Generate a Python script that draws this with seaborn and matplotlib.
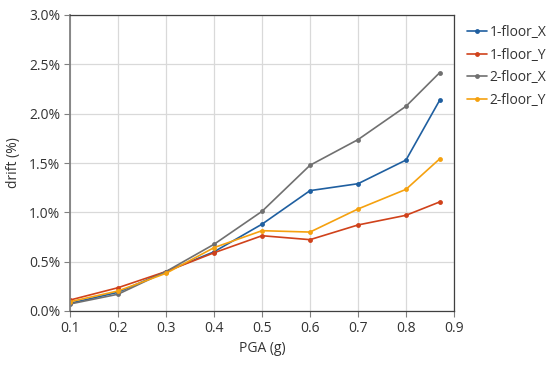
import matplotlib
matplotlib.use("Agg")
import matplotlib.pyplot as plt
import seaborn as sns
import pandas as pd
from matplotlib.ticker import FuncFormatter

pga = [0.1, 0.2, 0.3, 0.4, 0.5, 0.6, 0.7, 0.8, 0.87]
floor1_x = [0.078, 0.19, 0.40, 0.60, 0.88, 1.22, 1.29, 1.53, 2.135]
floor1_y = [0.111, 0.236, 0.40, 0.59, 0.763, 0.723, 0.872, 0.97, 1.105]
floor2_x = [0.071, 0.17, 0.40, 0.676, 1.01, 1.477, 1.737, 2.075, 2.415]
floor2_y = [0.094, 0.203, 0.382, 0.642, 0.814, 0.80, 1.034, 1.233, 1.541]
series_names = ["1-floor_X", "1-floor_Y", "2-floor_X", "2-floor_Y"]
colors = ["#1F5FA0", "#D0421B", "#707070", "#F5A10F"]

rows = []
for name, vals in zip(series_names, [floor1_x, floor1_y, floor2_x, floor2_y]):
    for x, v in zip(pga, vals):
        rows.append({"PGA": x, "drift": v, "series": name})
df = pd.DataFrame(rows)

sns.set_theme(style="whitegrid")
plt.rcParams["font.family"] = ["Open Sans", "DejaVu Sans"]

fig = plt.figure(figsize=(5.5, 3.65), dpi=100)
ax = fig.add_axes([70/550, 1-311/365, (454-70)/550, (311-15)/365])

sns.lineplot(data=df, x="PGA", y="drift", hue="series", hue_order=series_names,
             palette=colors, marker="o", markersize=3.5, markeredgewidth=0,
             linewidth=1.2, ax=ax)

ax.set_xlim(0.1, 0.9)
ax.set_ylim(0, 3.0)
ax.set_xticks([0.1, 0.2, 0.3, 0.4, 0.5, 0.6, 0.7, 0.8, 0.9])
ax.set_yticks([0, 0.5, 1.0, 1.5, 2.0, 2.5, 3.0])
ax.yaxis.set_major_formatter(FuncFormatter(lambda v, p: f"{v:.1f}%"))
ax.xaxis.set_major_formatter(FuncFormatter(lambda v, p: f"{v:.1f}"))
ax.grid(True, color="#D9D9D9", linewidth=0.9)
for s in ["top", "right", "bottom", "left"]:
    ax.spines[s].set_visible(True)
    ax.spines[s].set_color("#404040")
    ax.spines[s].set_linewidth(0.9)
ax.spines["left"].set_color("#808080")
ax.spines["left"].set_linewidth(1.3)
ax.tick_params(axis="both", which="major", length=4, width=0.8, color="#808080",
               labelsize=10, labelcolor="#333333", pad=3, direction="out",
               bottom=True, left=True)
ax.set_xlabel("PGA (g)", fontsize=10, color="#333333", labelpad=4)
ax.set_ylabel("drift (%)", fontsize=10, color="#333333", labelpad=6)

leg = ax.legend(loc="upper left", bbox_to_anchor=(1.02, 0.985), frameon=False,
                fontsize=10, handlelength=1.4, handletextpad=0.2,
                labelspacing=0.55, borderaxespad=0)
for t in leg.get_texts():
    t.set_color("#333333")

fig.savefig("out.png", dpi=100)
